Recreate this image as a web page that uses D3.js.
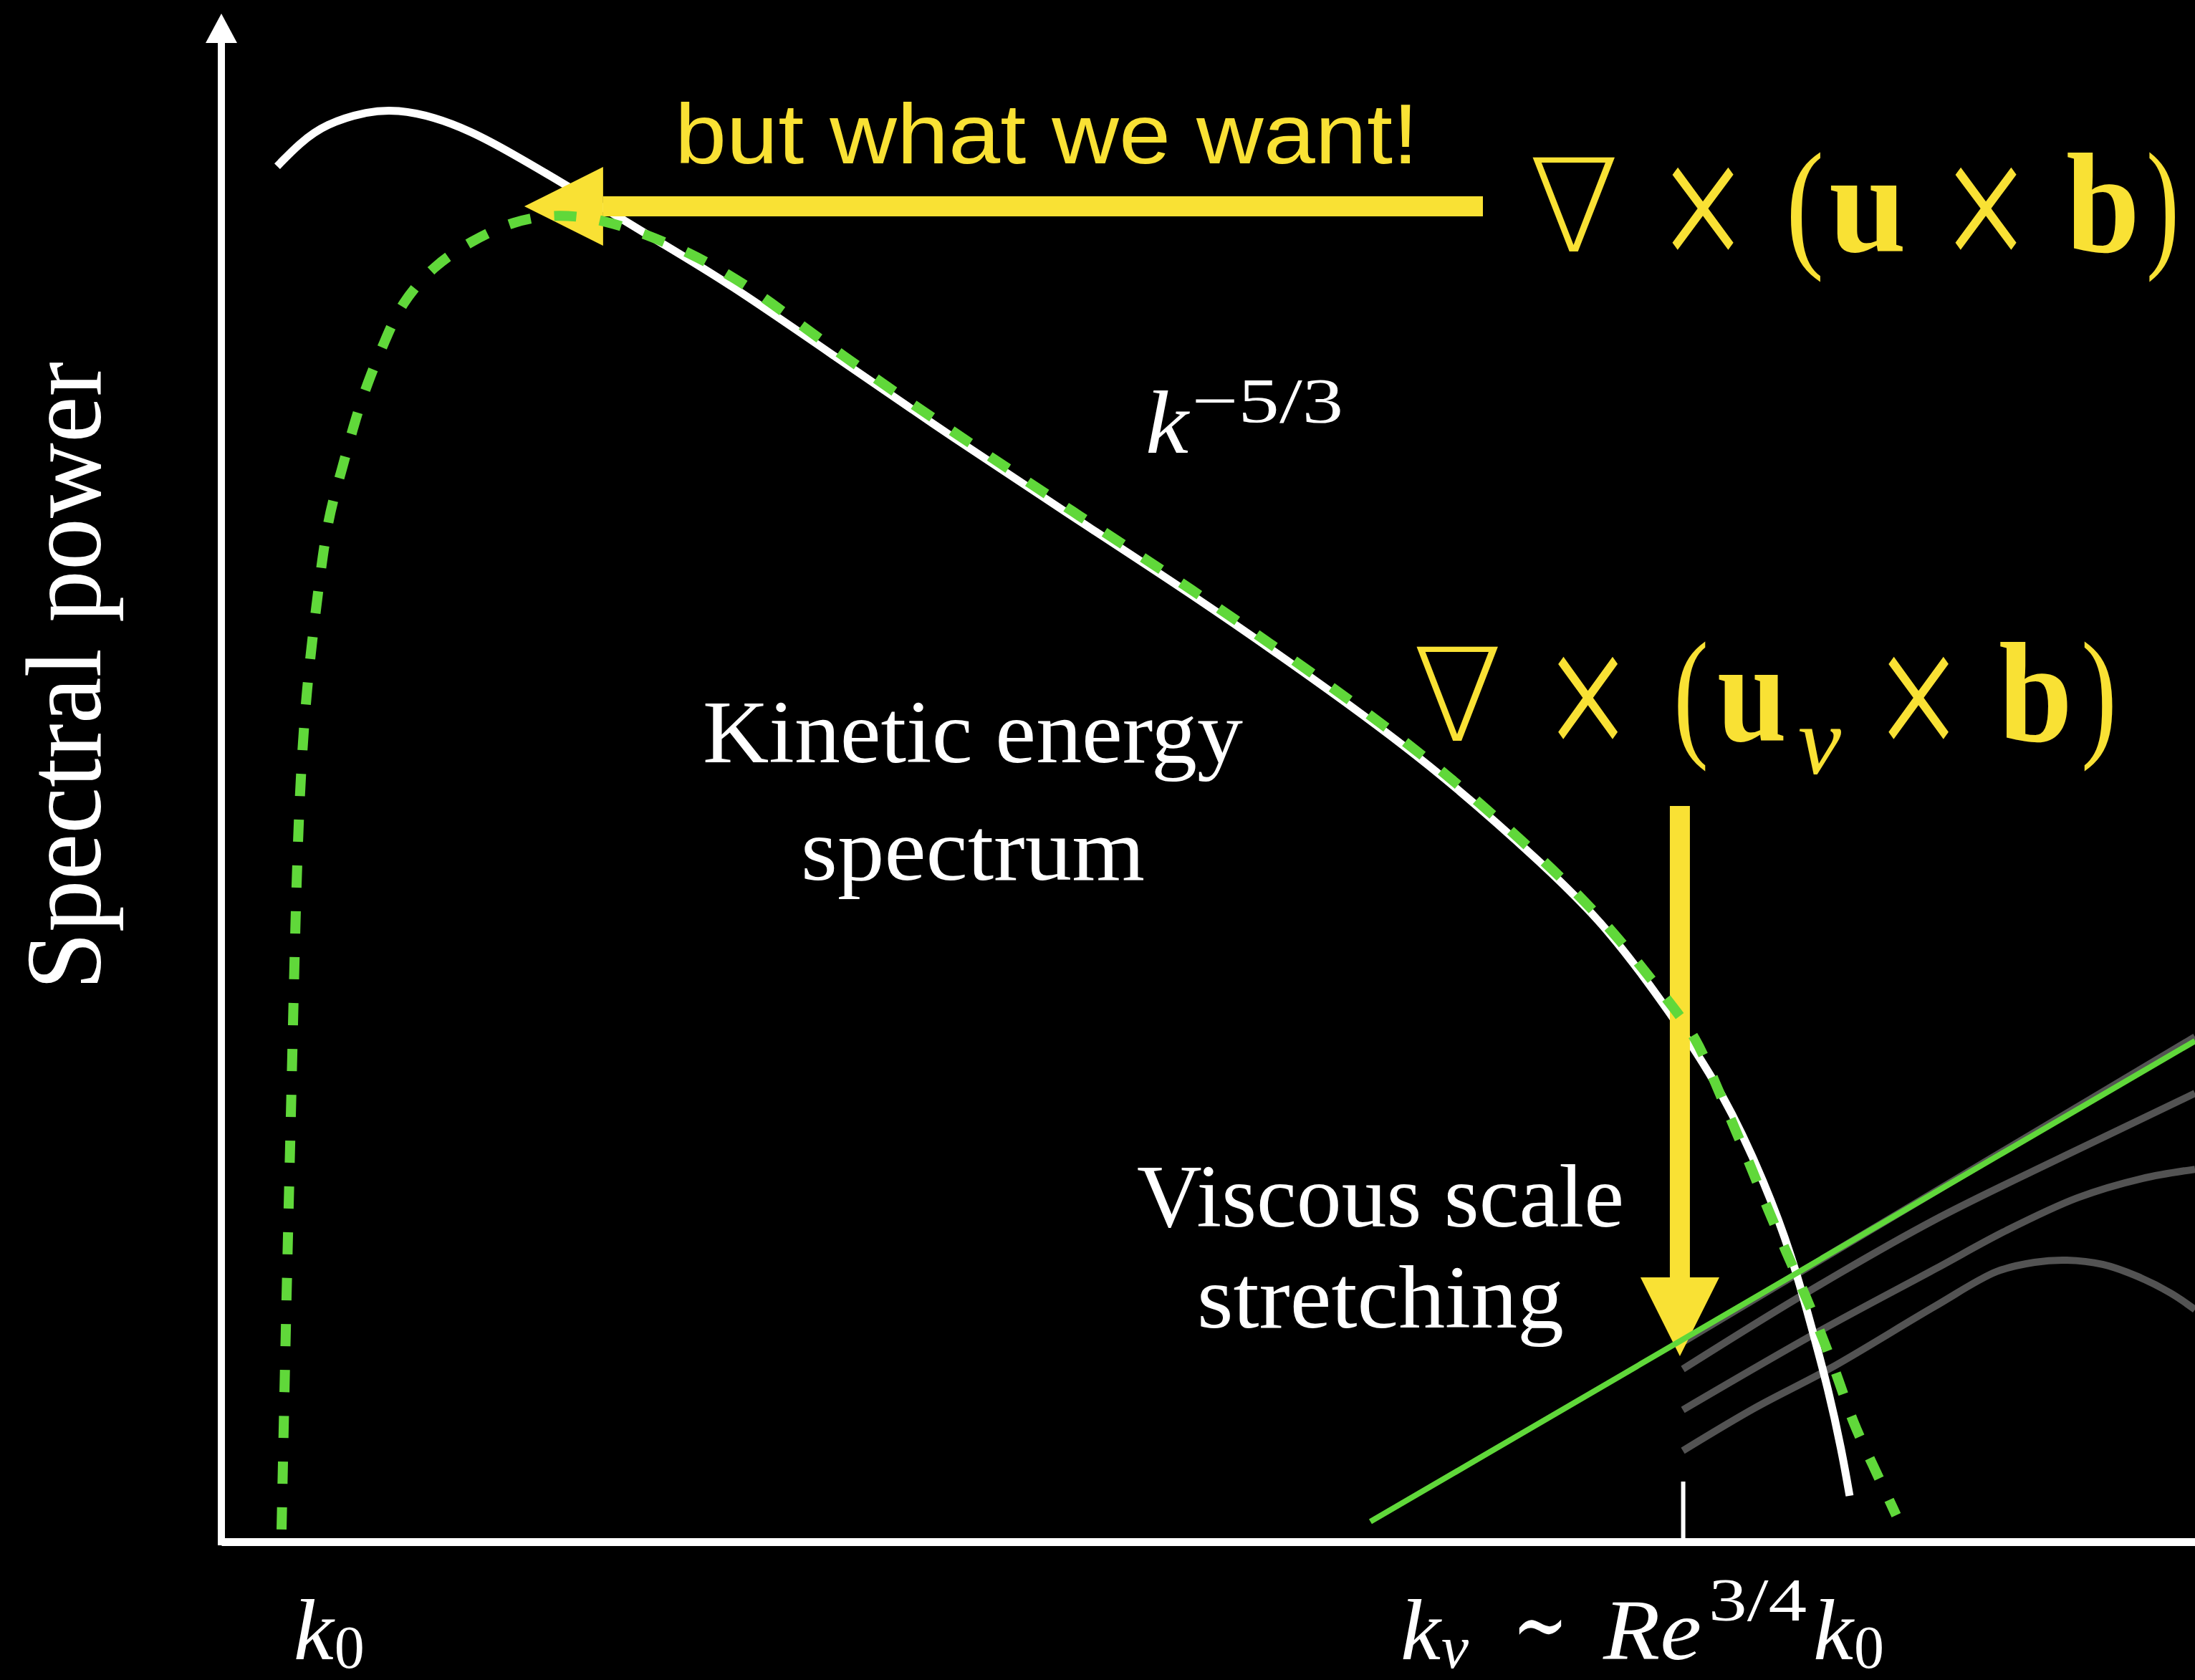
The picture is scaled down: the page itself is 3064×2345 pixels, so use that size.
<!DOCTYPE html>
<html>
<head>
<meta charset="utf-8">
<script src="https://cdn.jsdelivr.net/npm/d3@7"></script>
<style>
  html, body { margin: 0; padding: 0; background: #000; }
  svg { display: block; }
</style>
</head>
<body>
<script>
// ---------- data (plot units: log wavenumber across, log spectral power up) ----------
// kinetic energy spectrum
const kineticK = [2.83, 3.96, 5.26, 7.44, 8.93, 10.78, 12.63, 14.48, 18.18, 21.89, 25.59, 31.11, 37.13, 43.12, 49.15, 55.17, 61.20, 67.22, 70.24, 73.36, 76.12, 78.22, 79.60, 80.58, 81.42, 82.10, 82.50];
const kineticE = [90.18, 91.69, 92.95, 93.80, 93.89, 93.42, 92.48, 91.22, 88.40, 85.44, 82.62, 77.69, 72.33, 67.21, 62.14, 56.74, 51.06, 44.15, 40.25, 34.80, 29.40, 23.49, 18.65, 14.04, 10.00, 5.97, 3.01];

// stretching spectrum we want (dashed green)
const wantK = [3.05, 3.30, 3.56, 3.74, 3.96, 4.32, 4.86, 5.37, 6.10, 6.68, 7.40, 8.28, 9.11, 10.78, 12.63, 14.77, 17.10, 19.38, 21.52, 23.74, 25.70, 27.62, 31.11, 37.13, 43.12, 49.15, 55.17, 61.20, 67.22, 70.56, 73.36, 74.74, 75.72, 76.55, 77.50, 78.33, 79.31, 80.29, 81.13, 81.96, 82.65, 83.63, 84.86];
const wantE = [0.80, 16.25, 29.87, 40.35, 49.27, 56.08, 61.86, 67.07, 70.22, 73.13, 76.00, 78.72, 81.21, 83.70, 85.25, 86.61, 87.08, 86.66, 85.72, 84.50, 83.09, 81.49, 78.06, 72.71, 67.54, 62.47, 57.07, 51.39, 44.48, 40.02, 35.37, 33.07, 29.97, 27.52, 24.57, 21.89, 18.93, 16.06, 13.39, 10.57, 7.84, 5.17, 1.74];

// viscous-scale stretching power law (solid green)
const stretchK = [58.22, 100];
const stretchE = [1.32, 32.83];

// magnetic spectra growing from the viscous scale (grey)
const mag0K = [74.05, 100];
const mag0E = [13.1, 33.1];
const mag1K = [74.05, 80.15, 86.79, 93.50, 100];
const mag1E = [11.32, 16.20, 21.09, 25.36, 29.40];
const mag2K = [74.05, 80.98, 86.79, 90.42, 94.05, 97.31, 100];
const mag2E = [8.64, 13.81, 17.85, 20.39, 22.55, 23.81, 24.42];
const mag3K = [74.05, 77.71, 81.52, 86.79, 89.95, 91.87, 93.50, 95.32, 97.02, 98.77, 100];
const mag3E = [5.97, 8.78, 11.37, 15.41, 17.71, 18.32, 18.46, 18.18, 17.43, 16.30, 15.22];

// axis ticks
const tickK = [5.4, 74.05];            // k0, k_nu
const kNu = tickK[1];

// annotation arrows: [fromK, fromE, toK, toE]
const arrowWant = [63.92, 87.55, 15.35, 87.55];
const arrowVisc = [73.90, 48.24, 73.90, 12.17];

// ---------- drawing ----------
const W = 3064, H = 2345;
const YELLOW = "#f9e134", GREEN = "#60d83a", GREY = "#535353", WHITE = "#ffffff";
const SERIF = "'Liberation Serif', 'DejaVu Serif', serif";
const SANS = "'Liberation Sans', Arial, sans-serif";
const NABLA = "'DejaVu Sans', 'DejaVu Serif', sans-serif";

const svg = d3.select("body").append("svg")
  .attr("width", W).attr("height", H)
  .attr("viewBox", `0 0 ${W} ${H}`);
svg.append("rect").attr("width", W).attr("height", H).attr("fill", "#000");

const x = d3.scaleLinear().domain([0, 100]).range([309, 3064]);
const y = d3.scaleLinear().domain([0, 100]).range([2152, 23]);

const zip = (a, b) => a.map((v, i) => [v, b[i]]);
const curve = d3.line()
  .x(d => x(d[0])).y(d => y(d[1]))
  .curve(d3.curveCatmullRom.alpha(0.5));
const smooth = d3.line()
  .x(d => x(d[0])).y(d => y(d[1]))
  .curve(d3.curveBasis);

// grey magnetic spectra
[[mag0K, mag0E], [mag1K, mag1E], [mag2K, mag2E], [mag3K, mag3E]].forEach(([k, e]) => {
  svg.append("path").attr("d", curve(zip(k, e)))
    .attr("fill", "none").attr("stroke", GREY).attr("stroke-width", 10);
});

// kinetic energy spectrum
svg.append("path").attr("d", smooth(zip(kineticK, kineticE)))
  .attr("fill", "none").attr("stroke", WHITE).attr("stroke-width", 11);

// axes
const xAxis = d3.axisBottom(x).tickValues([kNu]).tickSize(-84).tickSizeOuter(0).tickFormat("");
const gx = svg.append("g").attr("transform", `translate(0,${y(0)})`).call(xAxis);
gx.select(".domain").attr("stroke", WHITE).attr("stroke-width", 11);
gx.selectAll(".tick line").attr("stroke", WHITE).attr("stroke-width", 6);

const ax0 = x(0);
svg.append("line")
  .attr("x1", ax0).attr("x2", ax0)
  .attr("y1", y(0) + 5).attr("y2", y(100) + 30)
  .attr("stroke", WHITE).attr("stroke-width", 10);
const tipY = y(100) - 4;
svg.append("path")
  .attr("d", `M${ax0},${tipY}L${ax0 + 22},${tipY + 41}L${ax0 - 22},${tipY + 41}Z`)
  .attr("fill", WHITE);

// yellow arrows
function arrow([k1, e1, k2, e2]) {
  const x1 = x(k1), y1 = y(e1), x2 = x(k2), y2 = y(e2);
  const len = Math.hypot(x2 - x1, y2 - y1);
  const ux = (x2 - x1) / len, uy = (y2 - y1) / len;
  const head = 110, half = 55;
  const bx = x2 - ux * head, by = y2 - uy * head;
  svg.append("line")
    .attr("x1", x1).attr("y1", y1).attr("x2", bx).attr("y2", by)
    .attr("stroke", YELLOW).attr("stroke-width", 28);
  svg.append("path")
    .attr("d", `M${x2},${y2}L${bx - uy * half},${by + ux * half}L${bx + uy * half},${by - ux * half}Z`)
    .attr("fill", YELLOW);
}
arrow(arrowWant);
arrow(arrowVisc);

// stretching power law and the wanted spectrum
svg.append("path").attr("d", d3.line().x(d => x(d[0])).y(d => y(d[1]))(zip(stretchK, stretchE)))
  .attr("fill", "none").attr("stroke", GREEN).attr("stroke-width", 8);
svg.append("path").attr("d", smooth(zip(wantK, wantE)))
  .attr("fill", "none").attr("stroke", GREEN).attr("stroke-width", 14)
  .attr("stroke-dasharray", "31 33");

// ---------- text ----------
function txt(str, px, py, o = {}) {
  const t = svg.append("text")
    .attr("x", px).attr("y", py)
    .attr("font-family", o.family || SERIF)
    .attr("font-size", o.size || 124)
    .attr("font-style", o.italic ? "italic" : "normal")
    .attr("font-weight", o.bold ? "bold" : (o.weight || "normal"))
    .attr("fill", o.fill || WHITE)
    .text(str);
  if (o.len) t.attr("textLength", o.len).attr("lengthAdjust", "spacingAndGlyphs");
  if (o.transform) t.attr("transform", o.transform);
  return t;
}

// axis title
txt("Spectral power", 0, 0, { size: 150, len: 877, transform: "translate(140,1382) rotate(-90)" });

// tick labels
const k0x = x(tickK[0]) - 48;
txt("k", k0x, 2316, { italic: true, size: 120, len: 56 });
txt("0", k0x + 57, 2328, { size: 84, len: 42 });

const kvx = x(kNu) - 394;
txt("k", kvx, 2316, { italic: true, size: 120, len: 56 });
txt("ν", kvx + 57, 2328, { italic: true, size: 84, len: 38 });
txt("∼", kvx + 156, 2312, { size: 130, len: 78 });
txt("Re", kvx + 283, 2316, { italic: true, size: 120, len: 137 });
txt("3/4", kvx + 430, 2262, { size: 84, len: 137 });
txt("k", kvx + 576, 2316, { italic: true, size: 120, len: 56 });
txt("0", kvx + 633, 2328, { size: 84, len: 42 });

// curve annotations
txt("k", 1599, 632, { italic: true, size: 124, len: 60 });
txt("−5/3", 1664, 589, { size: 88, len: 211 });
txt("Kinetic energy", 981, 1064, { size: 124, len: 754 });
txt("spectrum", 1118, 1228, { size: 124, len: 480 });
txt("Viscous scale", 1587, 1712, { size: 124, len: 680 });
txt("stretching", 1671, 1853, { size: 124, len: 512 });

// yellow call-outs
txt("but what we want!", 942, 228, { family: SANS, size: 118, len: 1038, fill: YELLOW });

// glyph, left edge, advance, baseline offset, style
const eqWant = [
  ["∇", 2134, 126, 0, { size: 180, family: NABLA, weight: 200 }], ["×", 2318, 118, 34, { size: 282 }], ["(", 2493, 53, 0, {}],
  ["u", 2553, 108, 0, { bold: true }], ["×", 2713, 118, 34, { size: 282 }],
  ["b", 2884, 103, 0, { bold: true }], [")", 2996, 46, 0, {}]
];
eqWant.forEach(([s, px, w, dy, o]) => txt(s, px, 351 + dy, Object.assign({ size: 200, len: w, fill: YELLOW }, o)));

const eqVisc = [
  ["∇", 1972, 125, 0, { size: 180, family: NABLA, weight: 200 }], ["×", 2159, 115, 34, { size: 282 }], ["(", 2336, 49, 0, {}],
  ["u", 2397, 97, 0, { bold: true }], ["×", 2620, 116, 34, { size: 282 }],
  ["b", 2790, 103, 0, { bold: true }], [")", 2905, 50, 0, {}]
];
eqVisc.forEach(([s, px, w, dy, o]) => txt(s, px, 1034 + dy, Object.assign({ size: 200, len: w, fill: YELLOW }, o)));
txt("ν", 2510, 1080, { italic: true, size: 135, len: 60, fill: YELLOW });
</script>
</body>
</html>
